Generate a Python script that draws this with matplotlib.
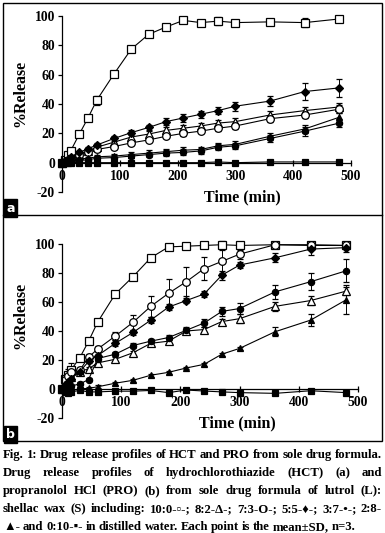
import numpy as np
import matplotlib
matplotlib.use("Agg")
import matplotlib.pyplot as plt

plt.rcParams['axes.unicode_minus'] = False

# sampling times (min)
times = [0, 5, 10, 15, 30, 45, 60, 90, 120, 150, 180, 210, 240, 270, 300, 360, 420, 480]
ratios = ["10:0", "8:2", "7:3", "5:5", "3:7", "2:8", "0:10"]

# (a) HCT release (%)
hct_10_0 = [0, 2, 5, 8, 19.5, 30.5, 42.5, 60.5, 77.5, 87.5, 92.5, 97, 95.5, 96.5, 95.5, 96, 95.5, 98]
hct_8_2 = [0, 1, 2, 3, 5.5, 8, 10.5, 14, 17.5, 19.5, 22, 23.5, 25, 27, 28, 32.5, 35.5, 38]
hct_7_3 = [0, 0.5, 1.5, 2.5, 5, 7, 9, 11, 13.5, 15.5, 18, 20, 21.5, 23.5, 25, 30, 32.5, 36.5]
hct_5_5 = [0, 1, 2, 4, 7, 9.5, 12, 16.5, 20.5, 24, 28, 30.5, 33, 35.5, 38.5, 42, 48.5, 51]
hct_3_7 = [0, 0.3, 0.5, 1, 1.5, 2, 3, 3.5, 4.5, 5.5, 6.5, 7, 8, 10.5, 11.5, 16.5, 21.5, 27]
hct_2_8 = [0, 0.5, 1, 1.5, 2.5, 3, 4, 4.5, 5.5, 6.5, 7.5, 8.5, 9, 11.5, 12.5, 18, 23, 31]
hct_0_10 = [0, 0, 0, 0, 0, 0, 0, 0, 0, 0, 0, 0, 0, 0.5, 0, 0.5, 0.5, 0.5]

hct_sd_10_0 = [0, 0, 0, 1, 1, 1, 3, 1, 1, 1, 1, 1, 1, 2.5, 1, 1, 3, 1]
hct_sd_8_2 = [0, 0, 0, 0.5, 1, 1.5, 1.5, 2, 2, 2, 2, 2, 2, 2, 2.5, 2.5, 2.5, 3]
hct_sd_7_3 = [0, 0, 0, 0.5, 1, 1, 1.5, 1.5, 1.5, 1.5, 1.5, 1.5, 1.5, 2, 2, 2, 2, 2.5]
hct_sd_5_5 = [0, 0, 0, 0.5, 1, 1, 1.5, 2, 1.5, 1.5, 2.5, 2.5, 2.5, 2.5, 3, 3.5, 6, 6]
hct_sd_3_7 = [0, 0, 0, 0.5, 1, 1, 1.5, 1.5, 1.5, 1.5, 2, 2, 2, 2, 2, 2.5, 3, 3]
hct_sd_2_8 = [0, 0, 0, 0.5, 1, 1, 1.5, 1.5, 2, 2, 2, 2, 2, 2, 2, 2.5, 3, 3]
hct_sd_0_10 = [0] * 18

# (b) PRO release (%)
pro_10_0 = [0, 7, 10, 13, 21.5, 33, 46, 65.5, 77.5, 90.5, 98, 98.5, 99, 99.5, 99, 99.5, 99.5, 99]
pro_8_2 = [0, 4, 6, 8, 12, 14, 18, 20.5, 25, 31.5, 33, 40, 41, 46.5, 48.5, 57, 61, 67.5]
pro_7_3 = [0, 6, 9, 12, 13, 22, 27.5, 36.5, 46, 57, 66, 74, 83, 88, 93, 99.5, 99, 99]
pro_5_5 = [0, 3, 5, 7, 12, 19, 23, 31.5, 39, 47.5, 56.5, 61, 65.5, 78.5, 85.5, 90.5, 96.5, 97.5]
pro_3_7 = [0, 1, 1.5, 2, 3.5, 6.5, 21, 24, 30, 33, 35.5, 40.5, 45.5, 53.5, 55.5, 67, 74, 81.5]
pro_2_8 = [0, -1, -1, -1, 0, 0.5, 1.5, 4, 6, 9.5, 11.5, 14.5, 17, 24, 28, 39.5, 47.5, 61.5]
pro_0_10 = [0, -2, -3, -2, -1, -2, -2, -1.5, -1.5, -1, -2.5, -0.7, -1.4, -2, -2.5, -3, -1.2, -2.5]

pro_sd_10_0 = [0, 2, 4, 5, 2, 1.5, 1.5, 1, 1, 1, 1, 1, 1, 2.5, 1, 1, 1, 1]
pro_sd_8_2 = [0, 1, 1, 1, 1, 1, 1.5, 1.5, 1.5, 1.5, 1.5, 2, 2, 2, 3, 3, 3, 3]
pro_sd_7_3 = [0, 2, 2, 2, 2, 2, 2, 3, 5, 7, 10, 10, 8, 8, 3, 1, 1, 1]
pro_sd_5_5 = [0, 1, 1, 1, 1, 1, 1, 2, 2, 2, 2, 2, 2, 3, 2, 3, 4, 3]
pro_sd_3_7 = [0, 1, 1, 1, 1, 1, 1, 1.5, 2, 1.5, 2, 2.5, 3, 3, 4, 5, 6, 8]
pro_sd_2_8 = [0, 1, 1, 1, 1, 1, 1, 1, 1, 1, 1, 1, 1, 1, 1, 3, 4, 10]
pro_sd_0_10 = [0, 1, 1, 1, 1, 1, 1, 1, 1, 1, 1, 1, 1, 1, 1, 1, 1, 1]

# marker styles per ratio: (marker, face, size)
styles = {"10:0": ("s", "white", 5.5), "8:2": ("^", "white", 5.5), "7:3": ("o", "white", 5.5),
          "5:5": ("D", "black", 4), "3:7": ("o", "black", 4.5), "2:8": ("^", "black", 4.5),
          "0:10": ("s", "black", 5)}

W, H = 385, 533
fig = plt.figure(figsize=(W / 100, H / 100), dpi=100)

def fx(px):
    return px / W

def fy(py):
    return 1 - py / H

def release_panel(rect, data, sds, xlab_pos, ylab_pos):
    ax = fig.add_axes(rect)
    for r, y, e in zip(ratios, data, sds):
        m, fc, ms = styles[r]
        ax.errorbar(times, y, yerr=e, color="black", lw=0.8, marker=m, mfc=fc, mec="black",
                    mew=0.9, ms=ms, capsize=2, elinewidth=0.7, capthick=0.7, clip_on=False)
    ax.set_xlim(0, 500)
    ax.set_ylim(-20, 100)
    ax.set_xticks([0, 100, 200, 300, 400, 500])
    ax.set_yticks([-20, 0, 20, 40, 60, 80, 100])
    ax.spines["top"].set_visible(False)
    ax.spines["right"].set_visible(False)
    ax.spines["bottom"].set_position(("data", 0))
    ax.spines["bottom"].set_linewidth(0.9)
    ax.spines["left"].set_linewidth(0.9)
    ax.tick_params(axis="y", direction="out", length=3, width=0.9, pad=2)
    ax.tick_params(axis="x", direction="inout", length=4, width=0.9, pad=3)
    for lab in ax.get_xticklabels() + ax.get_yticklabels():
        lab.set_fontfamily("Liberation Serif")
        lab.set_fontweight("bold")
        lab.set_fontsize(9.8)
    fig.text(fx(xlab_pos[0]), fy(xlab_pos[1]), "Time (min)", ha="center", va="center",
             family="Liberation Serif", weight="bold", fontsize=11.5)
    fig.text(fx(ylab_pos[0]), fy(ylab_pos[1]), "%Release", ha="center", va="center", rotation=90,
             family="Liberation Serif", weight="bold", fontsize=11.5)
    return ax

ax_a = release_panel([fx(62), fy(192), fx(351) - fx(62), fy(16) - fy(192)],
                     [hct_10_0, hct_8_2, hct_7_3, hct_5_5, hct_3_7, hct_2_8, hct_0_10],
                     [hct_sd_10_0, hct_sd_8_2, hct_sd_7_3, hct_sd_5_5, hct_sd_3_7, hct_sd_2_8, hct_sd_0_10],
                     (242, 197), (20, 93))
ax_b = release_panel([fx(62), fy(418), fx(358) - fx(62), fy(244) - fy(418)],
                     [pro_10_0, pro_8_2, pro_7_3, pro_5_5, pro_3_7, pro_2_8, pro_0_10],
                     [pro_sd_10_0, pro_sd_8_2, pro_sd_7_3, pro_sd_5_5, pro_sd_3_7, pro_sd_2_8, pro_sd_0_10],
                     (237, 423), (20, 315))

# panel frames
fig.add_artist(plt.Rectangle((fx(3), fy(441)), fx(382) - fx(3), fy(3) - fy(441), fill=False,
                             lw=1.0, ec="black", transform=fig.transFigure))
fig.add_artist(plt.Line2D([fx(3), fx(382)], [fy(214.5), fy(214.5)], lw=1.0, color="black",
                          transform=fig.transFigure))
for lab, py in [("a", 208), ("b", 434.5)]:
    fig.text(fx(10.5), fy(py), lab, ha="center", va="center", color="white", fontsize=9,
             weight="bold", family="DejaVu Sans",
             bbox=dict(boxstyle="square,pad=0.18", fc="black", ec="black"))

# caption, justified
caption = [
    "Fig. 1: Drug release profiles of HCT and PRO from sole drug formula.",
    "Drug release profiles of hydrochlorothiazide (HCT) (a) and",
    "propranolol HCl (PRO) (b) from sole drug formula of lutrol (L):",
    "shellac wax (S) including: 10:0-\u25ab-; 8:2-\u0394-; 7:3-O-; 5:5-\u2666-; 3:7-\u2022-; 2:8-",
    "\u25b2- and 0:10-\u25aa- in distilled water. Each point is the mean\u00b1SD, n=3.",
]
cap_base = [458, 476, 494, 512, 530]
cap_font = ["Liberation Serif", "DejaVu Sans"]
cap_size = 9.2
renderer = fig.canvas.get_renderer()
x0, x1 = 3, 382

for i, (line, py) in enumerate(zip(caption, cap_base)):
    words = line.split(" ")
    txts = [fig.text(0, fy(py), w, ha="left", va="baseline", fontsize=cap_size, weight="bold",
                     family=cap_font) for w in words]
    widths = [t.get_window_extent(renderer).width for t in txts]
    if i < 4:
        gap = (x1 - x0 - sum(widths)) / (len(words) - 1)
    else:
        gap = 2.8
    x = x0
    for t, w in zip(txts, widths):
        t.set_x(fx(x))
        x += w + gap

fig.savefig("out.png", dpi=100)
